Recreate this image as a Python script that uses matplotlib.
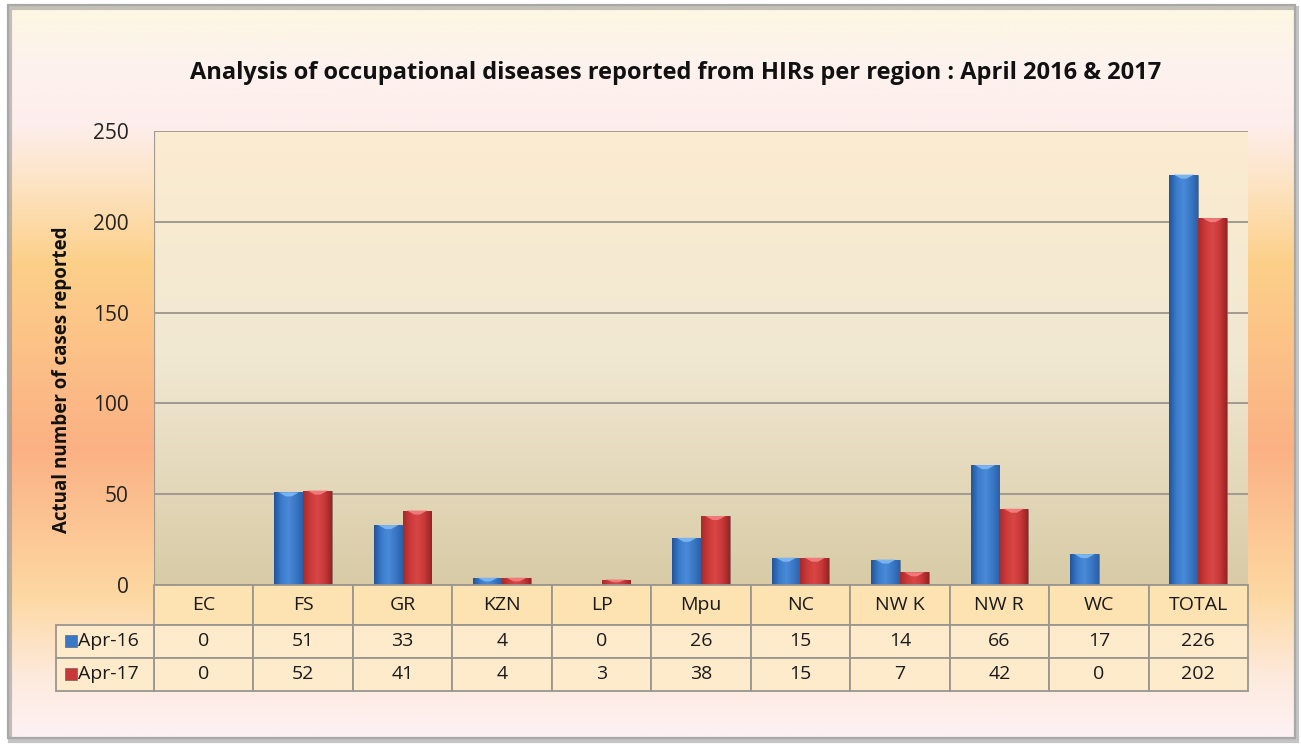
import matplotlib
matplotlib.use("Agg")
import matplotlib.pyplot as plt
import numpy as np
from matplotlib.colors import LinearSegmentedColormap, to_rgb
from matplotlib.patches import Rectangle
from matplotlib.transforms import blended_transform_factory

# Daten
regions = ["EC", "FS", "GR", "KZN", "LP", "Mpu", "NC", "NW K", "NW R", "WC", "TOTAL"]
apr16 = [0, 51, 33, 4, 0, 26, 15, 14, 66, 17, 226]
apr17 = [0, 52, 41, 4, 3, 38, 15, 7, 42, 0, 202]
series_names = ["Apr-16", "Apr-17"]
yticks = [0, 50, 100, 150, 200, 250]

FONT = "Open Sans"
plt.rcParams["font.family"] = [FONT, "DejaVu Sans"]

W, H = 1301, 744
fig = plt.figure(figsize=(W / 100, H / 100), dpi=100)
fig.patch.set_facecolor("white")

# Hintergrund mit vertikalem Farbverlauf
bg = fig.add_axes([0, 0, 1, 1], zorder=-10)
bg.set_xlim(0, W)
bg.set_ylim(H, 0)
bg.axis("off")
stops_y = [5, 60, 120, 180, 260, 450, 600, 680, 738]
stops_c = ["#fdf7e2", "#fdf2ee", "#fdeeec", "#fde4c4", "#fdd08a",
           "#fbb184", "#fdd8a2", "#fdeadc", "#fdf1f3"]
ys = np.arange(H)
cols = np.array([to_rgb(c) for c in stops_c])
grad = np.stack([np.interp(ys, stops_y, cols[:, k]) for k in range(3)], axis=1)
img = np.repeat(grad[:, None, :], 2, axis=1)
bg.imshow(img, extent=[8, 1295, 738, 5], aspect="auto", zorder=0)
# Rahmen mit Schatten
bg.add_patch(Rectangle((10, 8), 1287, 733, facecolor="none",
                       edgecolor="#8a8a8a", linewidth=3, alpha=0.5, zorder=1))
bg.add_patch(Rectangle((8, 5), 1287, 733, facecolor="none",
                       edgecolor="#a8a8a8", linewidth=1.6, zorder=2))

# Diagrammfläche
ax = fig.add_axes([154 / W, 1 - 585 / H, (1248 - 154) / W, (585 - 131) / H])
ax.set_xlim(-0.5, len(regions) - 0.5)
ax.set_ylim(0, 250)
pa = np.stack([np.interp(np.linspace(0, 1, 200), [0, 0.5, 1],
                         [c1, c2, c3])
               for c1, c2, c3 in zip(to_rgb("#fcecd0"), to_rgb("#f1e8d2"),
                                     to_rgb("#d8cba6"))], axis=1)
ax.imshow(np.repeat(pa[:, None, :], 2, axis=1), extent=[0, 1, 0, 1],
          transform=ax.transAxes, aspect="auto", zorder=0)

for y in yticks:
    ax.axhline(y, color="#a09a90", linewidth=1.4, zorder=1)
ax.axvline(-0.5, color="#a09a90", linewidth=1.6, zorder=1)

for s in ax.spines.values():
    s.set_visible(False)
ax.set_yticks(yticks)
ax.set_yticklabels([str(t) for t in yticks], fontsize=15, color="#222222")
ax.tick_params(axis="y", length=0, pad=18)
ax.set_xticks([])

x = np.arange(len(regions))
bw = 0.29
blue_cmap = LinearSegmentedColormap.from_list(
    "b", ["#22549a", "#3a7ccc", "#4a8ad8", "#3a78c6", "#2c60a8"])
red_cmap = LinearSegmentedColormap.from_list(
    "r", ["#a82a2a", "#cc3a3a", "#d84646", "#c83838", "#982424"])
bars16 = ax.bar(x - bw / 2, apr16, bw, color="#3a78c6", zorder=3,
                edgecolor="#6a6a6a", linewidth=0.4, label=series_names[0])
bars17 = ax.bar(x + bw / 2, apr17, bw, color="#c83838", zorder=3,
                edgecolor="#6a6a6a", linewidth=0.4, label=series_names[1])
gx = np.linspace(0, 1, 64)[None, :]
for bars, cmap, top in [(bars16, blue_cmap, "#7ab4f0"), (bars17, red_cmap, "#f07a7a")]:
    for b in bars:
        h = b.get_height()
        if h <= 0:
            continue
        x0, w = b.get_x(), b.get_width()
        im = ax.imshow(gx, cmap=cmap, extent=[x0, x0 + w, 0, h],
                       aspect="auto", zorder=4)
        im.set_clip_path(b)
        # helle Oberkante (Zylinderdeckel)
        th = min(2.2, h * 0.5)
        ax.fill([x0 + w * 0.15, x0 + w * 0.85, x0 + w * 0.6, x0 + w * 0.4],
                [h, h, h - th, h - th], color=top, zorder=5, linewidth=0)
ax.set_xlim(-0.5, len(regions) - 0.5)
ax.set_ylim(0, 250)

# Datentabelle unter der Achse
tr = blended_transform_factory(ax.transData, ax.transAxes)
row_edges = [0, -0.0881, -0.1597, -0.2324]
lab_x0 = -1.485
grid_c = "#9a9690"
for i, reg in enumerate(regions):
    ax.add_patch(Rectangle((i - 0.5, row_edges[1]), 1, row_edges[0] - row_edges[1],
                           transform=tr, facecolor="#fde2b2", edgecolor=grid_c,
                           linewidth=1.3, clip_on=False, zorder=6))
    ax.text(i, (row_edges[0] + row_edges[1]) / 2, reg, transform=tr,
            ha="center", va="center", fontsize=14, color="#1a1a1a",
            clip_on=False, zorder=8)
    for r, vals in enumerate([apr16, apr17]):
        y0, y1 = row_edges[r + 2], row_edges[r + 1]
        ax.add_patch(Rectangle((i - 0.5, y0), 1, y1 - y0, transform=tr,
                               facecolor="#fdebcb", edgecolor=grid_c,
                               linewidth=1.3, clip_on=False, zorder=6))
        ax.text(i, (y0 + y1) / 2, str(vals[i]), transform=tr, ha="center",
                va="center", fontsize=14, color="#1a1a1a", clip_on=False,
                zorder=8)

for r, (name, col) in enumerate(zip(series_names, ["#3a78c6", "#c83838"])):
    y0, y1 = row_edges[r + 2], row_edges[r + 1]
    ax.add_patch(Rectangle((lab_x0, y0), -0.5 - lab_x0, y1 - y0, transform=tr,
                           facecolor="#fdebcb", edgecolor=grid_c, linewidth=1.3,
                           clip_on=False, zorder=6))
    ym = (y0 + y1) / 2
    ax.add_patch(Rectangle((-1.395, ym - 0.013), 0.12, 0.026, transform=tr,
                           facecolor=col, edgecolor="#555555", linewidth=0.4,
                           clip_on=False, zorder=7))
    ax.text(-1.262, ym, name, transform=tr, ha="left", va="center",
            fontsize=14, color="#1a1a1a", clip_on=False, zorder=8)

fig.text(676 / W, 1 - 73 / H,
         "Analysis of occupational diseases reported from HIRs per region : April 2016 & 2017",
         ha="center", va="center", fontsize=17, fontweight="bold", color="#111111")
fig.text(62 / W, 1 - 380 / H, "Actual number of cases reported", rotation=90,
         ha="center", va="center", fontsize=13.5, fontweight="bold", color="#111111")

fig.savefig("out.png", dpi=100)
